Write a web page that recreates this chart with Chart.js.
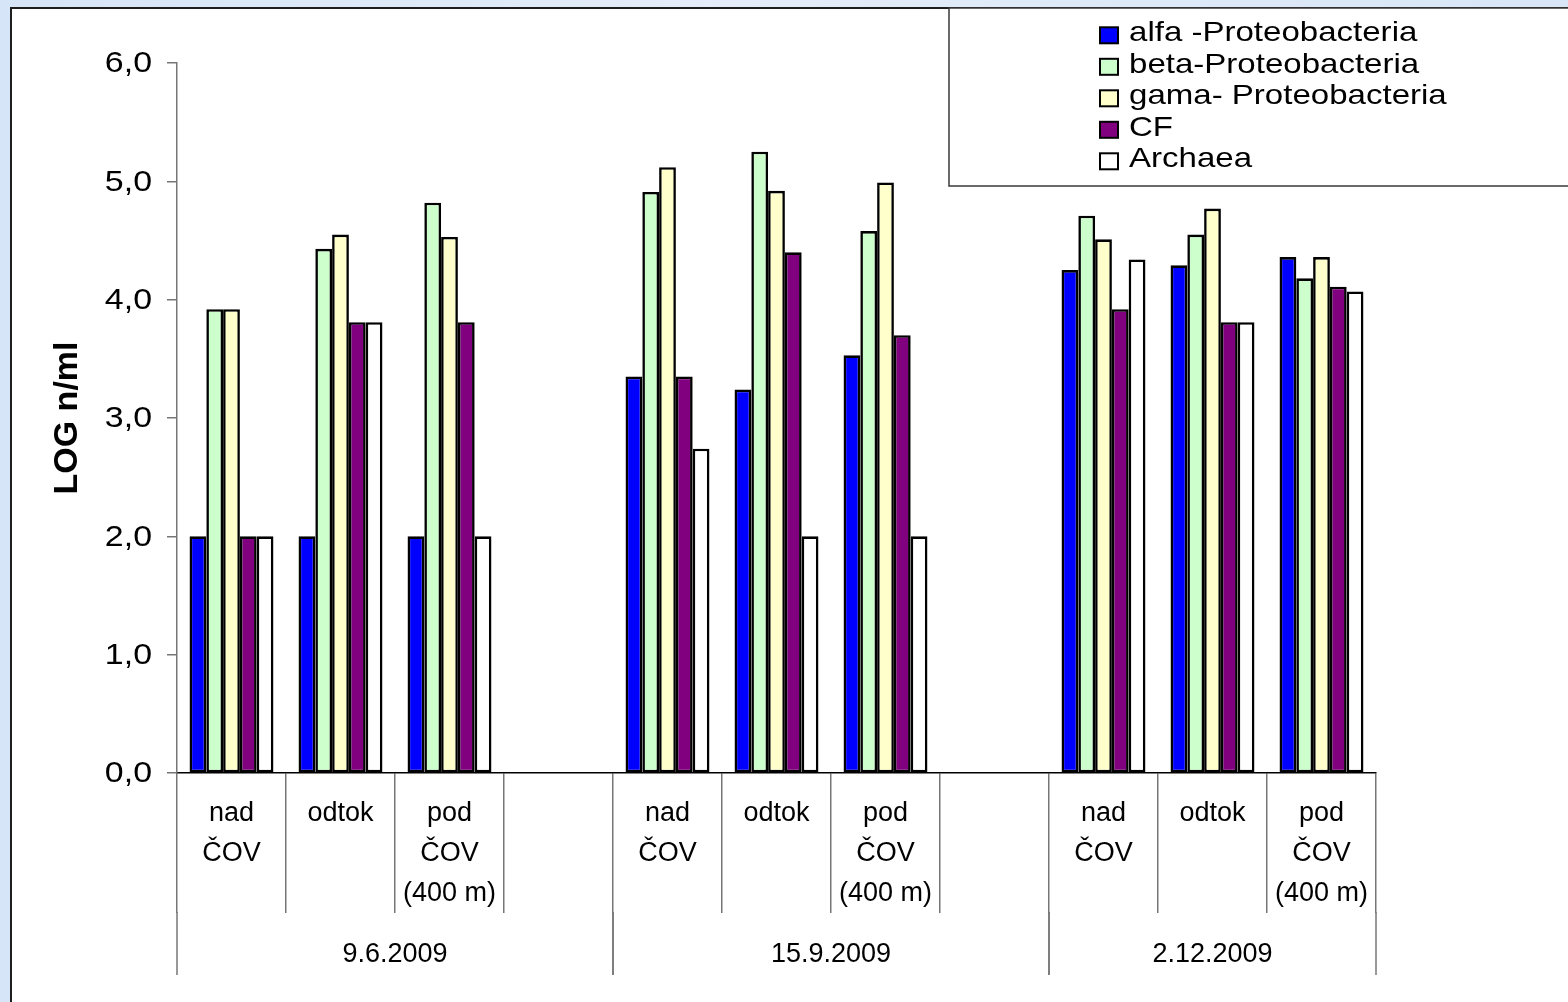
<!DOCTYPE html>
<html>
<head>
<meta charset="utf-8">
<script src="https://cdn.jsdelivr.net/npm/chart.js@4/dist/chart.umd.min.js"></script>
<style>
  html, body { margin: 0; padding: 0; background: #dbe7f6; overflow: hidden; }
  #wrap { width: 1568px; height: 1002px; position: relative; }
  canvas { display: block; }
</style>
</head>
<body>
<div id="wrap"><canvas id="chart" width="1568" height="1002"></canvas></div>
<script>
// Sampling sites per date; an empty entry closes a date group.
const sites = [
  ['nad', 'ČOV'], 'odtok', ['pod', 'ČOV', '(400 m)'], '',
  ['nad', 'ČOV'], 'odtok', ['pod', 'ČOV', '(400 m)'], '',
  ['nad', 'ČOV'], 'odtok', ['pod', 'ČOV', '(400 m)']
];
const dates = ['9.6.2009', '15.9.2009', '2.12.2009'];
const yTickLabels = ['0,0', '1,0', '2,0', '3,0', '4,0', '5,0', '6,0'];

const seriesNames = ['alfa -Proteobacteria', 'beta-Proteobacteria', 'gama- Proteobacteria', 'CF', 'Archaea'];

// LOG n/ml per site (null = spacer slot)
const alfa    = [2.00, 2.00, 2.00, null, 3.35, 3.24, 3.53, null, 4.25, 4.29, 4.36];
const beta    = [3.92, 4.43, 4.82, null, 4.91, 5.25, 4.58, null, 4.71, 4.55, 4.18];
const gama    = [3.92, 4.55, 4.53, null, 5.12, 4.92, 4.99, null, 4.51, 4.77, 4.36];
const cf      = [2.00, 3.81, 3.81, null, 3.35, 4.40, 3.70, null, 3.92, 3.81, 4.11];
const archaea = [2.00, 3.81, 2.00, null, 2.74, 2.00, 2.00, null, 4.34, 3.81, 4.07];

const seriesColors = ['#0000ff', '#ccffcc', '#ffffcc', '#800080', '#ffffff'];
const seriesData = [alfa, beta, gama, cf, archaea];

const FONT = '"Liberation Sans", Arial, Helvetica, sans-serif';
const AXIS_GREY = '#767676';
const INNER_TICK = 140;   // length of site separators below the axis
const OUTER_TICK = 202;   // length of date separators below the axis

// White framed panel on the light blue slide background
const framePlugin = {
  id: 'frame',
  beforeDraw(chart) {
    const ctx = chart.ctx, W = chart.width, H = chart.height;
    ctx.save();
    const g = ctx.createLinearGradient(0, 0, W, 0);
    g.addColorStop(0, '#d6e5f7');
    g.addColorStop(0.45, '#e4edf9');
    g.addColorStop(1, '#d8e6f7');
    ctx.fillStyle = g;
    ctx.fillRect(0, 0, W, H);
    ctx.fillStyle = '#ffffff';
    ctx.fillRect(11, 8, W, H);
    ctx.strokeStyle = '#1e1e1e';
    ctx.lineWidth = 2;
    ctx.beginPath();
    ctx.moveTo(11, H + 2);
    ctx.lineTo(11, 8);
    ctx.lineTo(W + 2, 8);
    ctx.stroke();
    ctx.restore();
  }
};

// Value labels, date groups and the legend panel
const extrasPlugin = {
  id: 'extras',
  afterDraw(chart) {
    const ctx = chart.ctx, W = chart.width;
    const xs = chart.scales.x, ys = chart.scales.y;
    ctx.save();

    // y tick labels (wide face)
    ctx.fillStyle = '#000';
    ctx.font = '30px ' + FONT;
    ctx.textAlign = 'right';
    ctx.textBaseline = 'middle';
    ys.ticks.forEach((t, i) => {
      const py = ys.getPixelForValue(t.value);
      ctx.save();
      ctx.translate(ys.right - 25, py + 1);
      ctx.scale(1.13, 1);
      ctx.fillText(yTickLabels[i], 0, 0);
      ctx.restore();
    });

    // date groups
    const half = (xs.getPixelForValue(1) - xs.getPixelForValue(0)) / 2;
    const groups = [];
    let start = 0;
    sites.forEach((s, i) => {
      if (s === '' || i === sites.length - 1) { groups.push([start, i]); start = i + 1; }
    });
    ctx.strokeStyle = AXIS_GREY;
    ctx.lineWidth = 1.5;
    ctx.font = '27px ' + FONT;
    ctx.textAlign = 'center';
    groups.forEach(([a, b], gi) => {
      const x0 = xs.getPixelForValue(a) - half;
      const x1 = xs.getPixelForValue(b) + half;
      [x0, x1].forEach(px => {
        ctx.beginPath();
        ctx.moveTo(px, xs.top + INNER_TICK - 1);
        ctx.lineTo(px, xs.top + OUTER_TICK);
        ctx.stroke();
      });
      ctx.fillText(dates[gi], (x0 + x1) / 2, xs.top + 182);
    });

    // legend panel
    const lx = 949, ly = 8, lb = 186;
    ctx.fillStyle = '#fff';
    ctx.fillRect(lx, ly, W - lx + 4, lb - ly);
    ctx.strokeStyle = '#3a3a3a';
    ctx.lineWidth = 1.5;
    ctx.strokeRect(lx, ly, W - lx + 4, lb - ly);
    ctx.font = '28px ' + FONT;
    ctx.textAlign = 'left';
    ctx.textBaseline = 'alphabetic';
    chart.data.datasets.forEach((ds, i) => {
      const cy = 35.3 + 31.5 * i;
      ctx.fillStyle = ds.backgroundColor;
      ctx.fillRect(1100, cy - 8, 18, 16);
      ctx.strokeStyle = '#000';
      ctx.lineWidth = 2;
      ctx.strokeRect(1100, cy - 8, 18, 16);
      ctx.fillStyle = '#000';
      ctx.save();
      ctx.translate(1129, cy + 6);
      ctx.scale(1.18, 1);
      ctx.fillText(ds.label, 0, 0);
      ctx.restore();
    });

    ctx.restore();
  }
};

new Chart(document.getElementById('chart'), {
  type: 'bar',
  data: {
    labels: sites,
    datasets: seriesNames.map((name, i) => ({
      label: name,
      data: seriesData[i],
      backgroundColor: seriesColors[i],
      borderColor: '#000',
      borderWidth: 2.6,
      borderSkipped: false,
      categoryPercentage: 0.77,
      barPercentage: 1.0
    }))
  },
  options: {
    responsive: false,
    animation: false,
    events: [],
    layout: { padding: { top: 63, right: 192, left: 0, bottom: 0 } },
    plugins: { legend: { display: false }, tooltip: { enabled: false } },
    scales: {
      x: {
        offset: true,
        grid: { drawOnChartArea: false, drawTicks: true, tickLength: INNER_TICK, color: AXIS_GREY, lineWidth: 1.5, offset: true },
        border: { color: '#000', width: 1.5 },
        ticks: {
          autoSkip: false, maxRotation: 0, minRotation: 0, padding: -119, color: '#000',
          font: { family: FONT, size: 27, lineHeight: '40px' }
        },
        afterFit(s) { s.height = 229; }
      },
      y: {
        min: 0, max: 6,
        ticks: { stepSize: 1, display: false },
        grid: { drawOnChartArea: false, drawTicks: true, tickLength: 10, color: AXIS_GREY, lineWidth: 1.5 },
        border: { color: AXIS_GREY, width: 1.5 },
        title: {
          display: true, text: 'LOG n/ml', color: '#000',
          font: { family: FONT, size: 34, weight: 'bold' },
          padding: { top: 47, bottom: 0 }
        },
        afterFit(s) { s.width = 177; }
      }
    }
  },
  plugins: [framePlugin, extrasPlugin]
});
</script>
</body>
</html>
